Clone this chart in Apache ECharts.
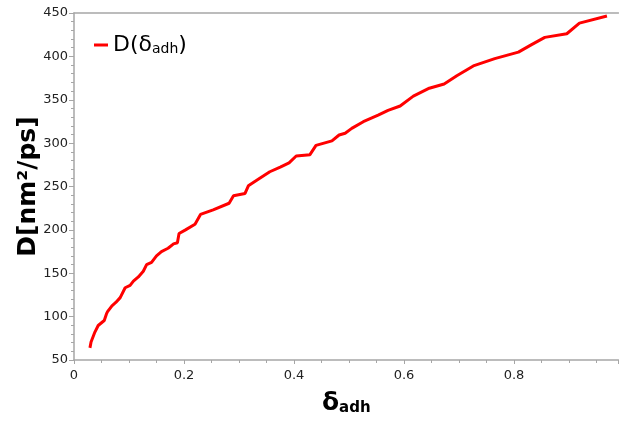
<!DOCTYPE html>
<html><head><meta charset="utf-8">
<script src="https://cdn.jsdelivr.net/npm/echarts@6/dist/echarts.min.js"></script>
<style>html,body{margin:0;padding:0;background:#fff}#c{width:619px;height:421px}</style>
</head><body><div id="c"></div>
<script>
const delta = [0.029,0.031,0.038,0.044,0.055,0.059,0.061,0.069,0.076,0.084,0.093,0.102,0.108,0.117,0.126,0.132,0.141,0.150,0.159,0.171,0.181,0.188,0.191,0.202,0.220,0.230,0.253,0.282,0.290,0.311,0.317,0.335,0.356,0.375,0.391,0.404,0.429,0.440,0.469,0.482,0.493,0.505,0.526,0.553,0.571,0.593,0.617,0.646,0.673,0.696,0.726,0.765,0.808,0.832,0.856,0.896,0.919,0.969];
const D = [64.0,70.8,82.2,89.8,95.5,103.1,105.7,112.5,116.3,121.9,133.3,136.0,140.9,145.8,152.3,159.9,162.5,170.1,175.0,178.8,183.8,185.2,195.8,199.7,206.5,217.8,223.1,230.7,239.4,242.0,250.8,258.3,267.0,272.4,277.3,285.2,286.7,297.4,302.6,309.4,311.4,317.0,324.7,332.2,337.8,342.8,354.2,363.3,368.2,377.6,389.0,397.4,404.9,413.6,421.9,426.1,438.3,446.6];
const xTicks = [0,0.2,0.4,0.6,0.8];

const chart = echarts.init(document.getElementById('c'));
const font = 'DejaVu Sans';
const axisColor = '#a6a6a6';
chart.setOption({
  animation:false,
  backgroundColor:'#fff',
  grid:{left:74,right:0.5,top:13,bottom:56,containLabel:false},
  legend:{
    left:89, top:29, icon:'rect', itemWidth:14, itemHeight:3, itemGap:4,
    formatter:()=>'{a|D(δ}{b|adh}{a|)}',
    textStyle:{color:'#000',fontFamily:font,rich:{
      a:{fontSize:22,fontFamily:font,color:'#000'},
      b:{fontSize:14,fontFamily:font,color:'#000',verticalAlign:'bottom',padding:[8,0,0,0]}
    }}
  },
  xAxis:[{
    type:'value', min:0, max:0.99, interval:0.2,
    axisLine:{show:true,lineStyle:{color:axisColor,width:1.5}},
    axisTick:{show:true,length:4,lineStyle:{color:axisColor}},
    minorTick:{show:true,splitNumber:4,length:3,lineStyle:{color:axisColor}},
    splitLine:{show:false},
    axisLabel:{showMaxLabel:false,color:'#222',fontFamily:font,fontSize:13,margin:9,
      formatter:v=>xTicks.includes(Math.round(v*10)/10)&&Math.abs(v-Math.round(v*10)/10)<1e-6?String(Math.round(v*10)/10):''},
    name:'{a|δ}{b|adh}', nameLocation:'middle', nameGap:31, nameMoveOverlap:false,
    nameTextStyle:{rich:{
      a:{fontSize:25,fontWeight:'bold',fontFamily:font,color:'#000'},
      b:{fontSize:15,fontWeight:'bold',fontFamily:font,color:'#000',verticalAlign:'bottom',padding:[10,0,0,0]}
    }}
  },{
    type:'value', position:'top', min:0, max:0.99,
    axisLine:{show:true,lineStyle:{color:axisColor,width:1.5}},
    axisTick:{show:false}, axisLabel:{show:false}, splitLine:{show:false}
  }],
  yAxis:{
    type:'value', min:50, max:450, interval:50,
    axisLine:{show:true,lineStyle:{color:axisColor,width:1.5}},
    axisTick:{show:true,length:5,lineStyle:{color:axisColor}},
    minorTick:{show:true,splitNumber:5,length:3,lineStyle:{color:axisColor}},
    splitLine:{show:false},
    axisLabel:{color:'#222',fontFamily:font,fontSize:13,margin:6},
    name:'D[nm²/ps]', nameLocation:'middle', nameGap:33, nameRotate:90, nameMoveOverlap:false,
    nameTextStyle:{fontSize:25,fontWeight:'bold',fontFamily:font,color:'#000'}
  },
  series:[{
    type:'line', name:'D', showSymbol:false, symbol:'none',
    data:delta.map((x,i)=>[x,D[i]]),
    lineStyle:{color:'#ff0000',width:3},
    itemStyle:{color:'#ff0000'}
  }]
});
</script></body></html>
